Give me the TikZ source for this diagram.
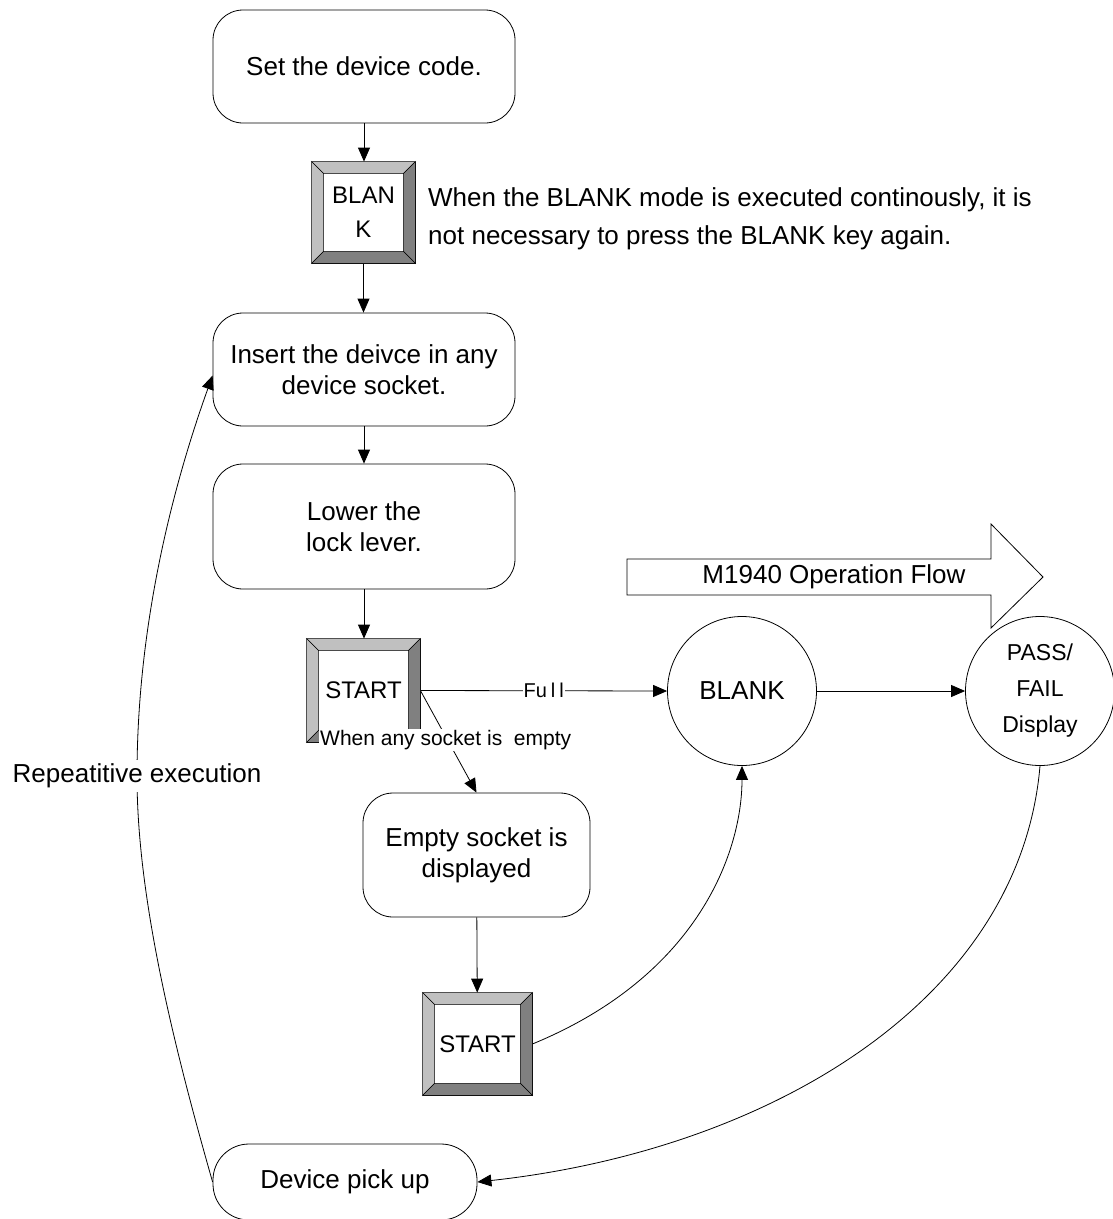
\documentclass[tikz,border=0pt]{standalone}
\usepackage{fontspec}
\setmainfont{Liberation Sans}
\usetikzlibrary{arrows.meta,calc}
\definecolor{keylt}{HTML}{C0C0C0}
\definecolor{keydk}{HTML}{808080}
\newcommand\mykeybevel[1]{%
 \coordinate (kA) at (#1.north west);
 \coordinate (kB) at (#1.north east);
 \coordinate (kC) at (#1.south east);
 \coordinate (kD) at (#1.south west);
 \coordinate (ka) at ($(kA)+(12pt,-12pt)$);
 \coordinate (kb) at ($(kB)+(-12pt,-12pt)$);
 \coordinate (kc) at ($(kC)+(-12pt,12pt)$);
 \coordinate (kd) at ($(kD)+(12pt,12pt)$);
 \filldraw[bev, fill=keylt] (kA) -- (kB) -- (kb) -- (ka) -- cycle;
 \filldraw[bev, fill=keylt] (kA) -- (ka) -- (kd) -- (kD) -- cycle;
 \filldraw[bev, fill=keydk] (kB) -- (kC) -- (kc) -- (kb) -- cycle;
 \filldraw[bev, fill=keydk] (kD) -- (kd) -- (kc) -- (kC) -- cycle;
}
\tikzset{
 ln/.style={line width=0.8pt},
 bev/.style={draw=black, line width=0.6pt},
 arr/.style={ln, -{Triangle[length=14pt,width=12pt]}},
 rbox/.style={draw, ln, rounded corners=30pt, fill=white, align=center, inner sep=0pt, font=\fontsize{26}{31}\selectfont},
 keyn/.style={draw, ln, fill=white, align=center, inner sep=0pt, font=\fontsize{24}{34}\selectfont},
 circ/.style={draw, ln, circle, minimum size=149pt, inner sep=0pt, align=center, font=\fontsize{26}{36}\selectfont},
 txt/.style={font=\fontsize{26}{38}\selectfont, inner sep=0pt},
 lbl/.style={fill=white, inner sep=2pt},
}
\begin{document}
\begin{tikzpicture}[x=1pt,y=-1pt]
\useasboundingbox (0,0) rectangle (1113,1219);

% big flow arrow
\draw[ln, fill=white] (627,559) -- (991,559) -- (991,524) -- (1043,577) -- (991,628) -- (991,595) -- (627,595) -- cycle;
\node[txt] (flow) at (834,577) {M1940 Operation Flow};

% nodes
\node[rbox, minimum width=302pt, minimum height=113pt] (set) at (364,66.5) {Set the device code.};
\node[keyn, minimum width=103pt, minimum height=101pt] (blankkey) at (363.5,212.5) {BLAN\\K};
\node[txt, anchor=west, align=left] (note) at (428,219) {When the BLANK mode is executed continously, it is\\not necessary to press the BLANK key again.};
\node[rbox, minimum width=302pt, minimum height=113pt] (insert) at (364,369.5) {Insert the deivce in any\\device socket.};
\node[rbox, minimum width=302pt, minimum height=125pt] (lower) at (364,526.5) {Lower the\\lock lever.};
\node[keyn, minimum width=113pt, minimum height=103pt] (start1) at (363.5,690.5) {START};
\node[circ] (blankc) at (742,691) {BLANK};
\node[circ, font=\fontsize{23}{36}\selectfont] (passc) at (1040,691) {PASS/\\FAIL\\Display};
\node[rbox, minimum width=227pt, minimum height=124pt] (empty) at (476.5,855) {Empty socket is\\displayed};
\node[keyn, minimum width=109pt, minimum height=102pt] (start2) at (477.5,1044) {START};
\node[rbox, rounded corners=36pt, minimum width=264pt, minimum height=76pt] (pick) at (345,1182) {Device pick up};

% connectors
\draw[arr] (set.south) -- (set.south |- blankkey.north);
\draw[arr] (blankkey.south) -- (blankkey.south |- insert.north);
\draw[arr] (insert) -- (lower);
\draw[arr] (lower.south) -- (lower.south |- start1.north);
\draw[arr] (start1.east) -- node[lbl, inner sep=1pt, font=\fontsize{20}{24}\selectfont] (fulllbl) {Fu\kern4pt l\kern4pt l} (blankc.west);
\draw[arr] (blankc) -- (passc);
\draw[arr] (start1.east) -- (empty.north);
\draw[arr] (empty) -- (start2);
\draw[arr] (start2.east) .. controls (700,975) and (742,850) .. (blankc.south);
\draw[arr] (passc.south) .. controls (1020,1000) and (770,1150) .. (pick.east);
\draw[arr] (pick.west) .. controls (175,1050) and (137,900) .. (137,776)
  node[txt, lbl, inner sep=4pt] (repeat) {Repeatitive execution}
  .. controls (137,620) and (175,480) .. ([yshift=-6pt]insert.west);

% key bevels
\mykeybevel{blankkey}
\mykeybevel{start1}
\mykeybevel{start2}

% label over the first START key bottom
\node[lbl, anchor=west, inner sep=1pt, font=\fontsize{21}{25}\selectfont] (emptylbl) at (319,740) {When any socket is\ \ empty};
\end{tikzpicture}
\end{document}
